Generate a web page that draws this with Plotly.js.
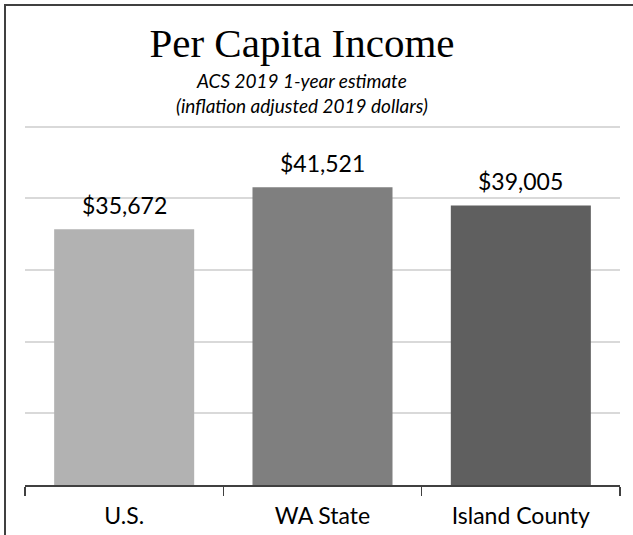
<!DOCTYPE html>
<html>
<head>
<meta charset="utf-8">
<script src="https://cdn.plot.ly/plotly-3.0.1.min.js"></script>
<style>
  html, body { margin: 0; padding: 0; background: #ffffff; }
  #wrap { position: relative; width: 633px; height: 535px; overflow: hidden; }
  #chart { position: absolute; left: 0; top: 0; width: 633px; height: 535px; }
  #frame { position: absolute; left: 4px; top: 4px; width: 800px; height: 800px;
           border-top: 2px solid #404040; border-left: 2px solid #404040; pointer-events: none; }
</style>
</head>
<body>
<div id="wrap">
  <div id="chart"></div>
  <div id="frame"></div>
</div>
<script>
const categories = ["U.S.", "WA State", "Island County"];
const incomeValues = [35672, 41521, 39005];
const valueLabels = ["$35,672", "$41,521", "$39,005"];
const barColors = ["#b2b2b2", "#7f7f7f", "#5f5f5f"];
const chartTitle = "Per Capita Income";
const subtitleLines = ["ACS 2019 1-year estimate", "(inflation adjusted 2019 dollars)"];

const trace = {
  type: "bar",
  x: categories,
  y: incomeValues,
  marker: { color: barColors, line: { width: 0 } },
  hoverinfo: "none"
};

const annotations = categories.map((c, i) => ({
  x: c, y: incomeValues[i], xref: "x", yref: "y",
  text: valueLabels[i], showarrow: false,
  yanchor: "bottom", yshift: 8,
  font: { family: "Lato, 'Open Sans', sans-serif", size: 23, color: "#000000" }
}));

// plot area: top 123, bottom 485 (height 362)
annotations.push({
  xref: "paper", yref: "paper", x: 0.4655, y: (485 - 80) / 362,
  xanchor: "center", yanchor: "middle", showarrow: false,
  text: "<i>" + subtitleLines[0] + "</i>",
  font: { family: "Lato, 'Open Sans', sans-serif", size: 19, color: "#000000" }
});
annotations.push({
  xref: "paper", yref: "paper", x: 0.4655, y: (485 - 106) / 362,
  xanchor: "center", yanchor: "middle", showarrow: false,
  text: "<i>" + subtitleLines[1] + "</i>",
  font: { family: "Lato, 'Open Sans', sans-serif", size: 19, color: "#000000" }
});

const layout = {
  width: 633, height: 535,
  margin: { l: 25, r: 13, t: 123, b: 50, pad: 0 },
  paper_bgcolor: "#ffffff",
  plot_bgcolor: "#ffffff",
  showlegend: false,
  bargap: 0.294,
  title: {
    text: chartTitle,
    x: 302 / 633, xref: "container", xanchor: "center",
    y: 1 - 43 / 535, yref: "container", yanchor: "middle",
    font: { family: "'Liberation Serif', 'DejaVu Serif', serif", size: 41, color: "#000000" }
  },
  xaxis: {
    type: "category",
    showline: true, linecolor: "#404040", linewidth: 1.5,
    ticks: "outside", tickson: "boundaries", ticklen: 9, tickwidth: 1.5, tickcolor: "#404040",
    ticklabelstandoff: 10,
    tickfont: { family: "Lato, 'Open Sans', sans-serif", size: 23, color: "#000000" },
    showgrid: false, zeroline: false, fixedrange: true
  },
  yaxis: {
    range: [0, 50500], dtick: 10000, tick0: 0,
    showgrid: true, gridcolor: "#d9d9d9", gridwidth: 2,
    showticklabels: false, ticks: "", zeroline: false, showline: false, fixedrange: true
  },
  annotations: annotations
};

Plotly.newPlot("chart", [trace], layout, { displayModeBar: false, staticPlot: true });
</script>
</body>
</html>
